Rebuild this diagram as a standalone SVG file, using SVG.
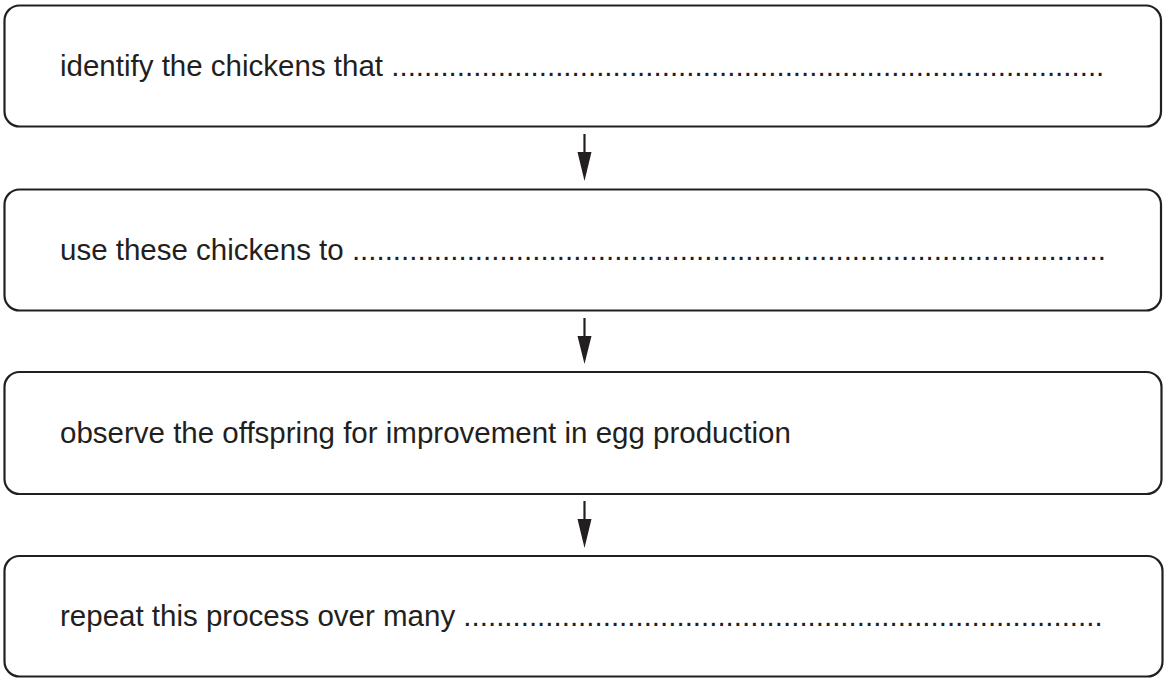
<svg xmlns="http://www.w3.org/2000/svg" width="1165" height="679" viewBox="0 0 1165 679">
  <style>
    .box { fill: #ffffff; stroke: #231f20; stroke-width: 2.2; }
    .label { font-family: "Liberation Sans", Arial, sans-serif; font-size: 29.5px; fill: #231f20; }
    .stem { stroke: #231f20; stroke-width: 2.2; fill: none; }
    .head { fill: #231f20; }
  </style>
  <rect width="1165" height="679" fill="#ffffff"/>

  <!-- process steps -->
  <g id="step-identify">
    <rect class="box" x="4.5" y="5.5" width="1156.5" height="121" rx="15" ry="15"/>
    <text class="label" x="60" y="76">identify the chickens that .......................................................................................</text>
  </g>
  <g id="step-use">
    <rect class="box" x="4.5" y="189.5" width="1156.5" height="121" rx="15" ry="15"/>
    <text class="label" x="60" y="260">use these chickens to ............................................................................................</text>
  </g>
  <g id="step-observe">
    <rect class="box" x="4.5" y="372" width="1157" height="122" rx="15" ry="15"/>
    <text class="label" x="60" y="443">observe the offspring for improvement in egg production</text>
  </g>
  <g id="step-repeat">
    <rect class="box" x="4.5" y="556" width="1158" height="120.5" rx="15" ry="15"/>
    <text class="label" x="60" y="626">repeat this process over many ..............................................................................</text>
  </g>

  <!-- connectors between steps -->
  <g id="connectors">
    <line class="stem" x1="584.5" y1="134" x2="584.5" y2="153"/>
    <polygon class="head" points="577.5,152 591.5,152 584.5,181"/>
    <line class="stem" x1="584.5" y1="318" x2="584.5" y2="337"/>
    <polygon class="head" points="577.5,336 591.5,336 584.5,364"/>
    <line class="stem" x1="584.5" y1="501" x2="584.5" y2="520"/>
    <polygon class="head" points="577.5,519 591.5,519 584.5,548"/>
  </g>
</svg>
